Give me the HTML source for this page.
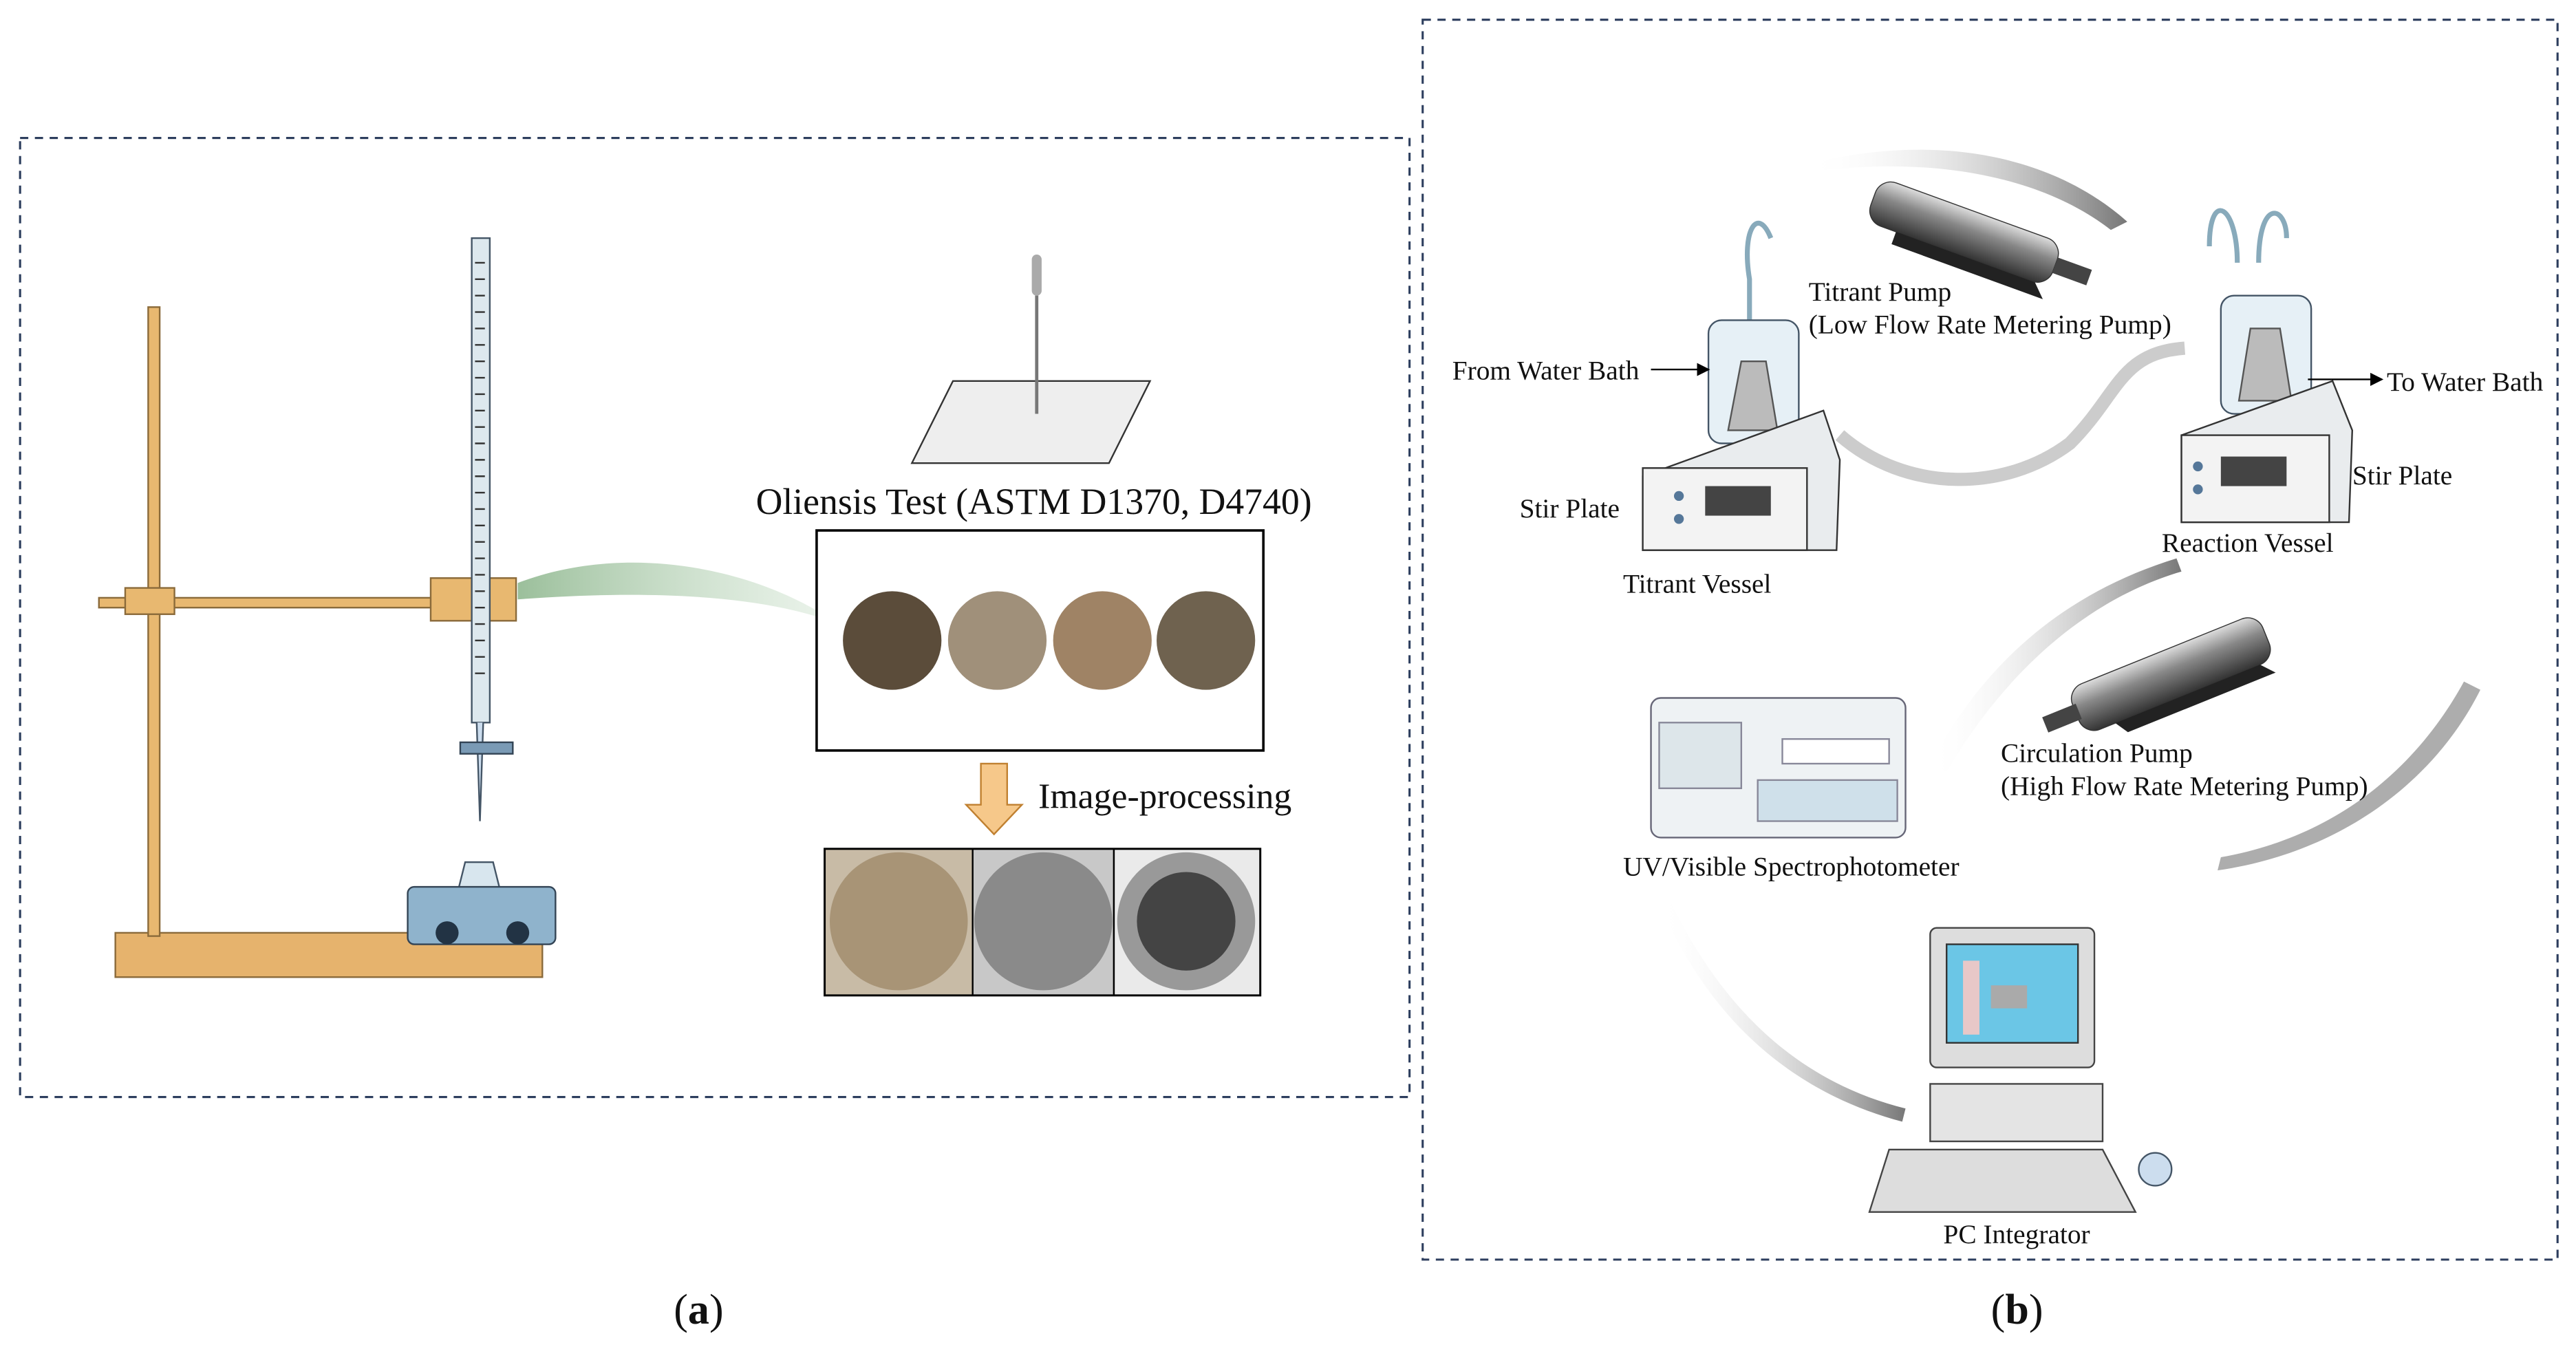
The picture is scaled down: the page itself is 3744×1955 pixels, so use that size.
<!DOCTYPE html>
<html><head><meta charset="utf-8"><style>
html,body{margin:0;padding:0;background:#fff}
svg{display:block}
text{font-family:"Liberation Serif",serif;fill:#111}
</style></head><body>
<svg width="3744" height="1955" viewBox="0 0 1568 819" xmlns="http://www.w3.org/2000/svg">
<defs>
<linearGradient id="ga" x1="0" x2="1"><stop offset="0" stop-color="#fff" stop-opacity="0"/><stop offset="1" stop-color="#777"/></linearGradient>
<linearGradient id="gcyl" x1="0" y1="0" x2="0" y2="1"><stop offset="0" stop-color="#ddd"/><stop offset=".4" stop-color="#888"/><stop offset="1" stop-color="#333"/></linearGradient>
<linearGradient id="ggr" x1="0" x2="1"><stop offset="0" stop-color="#9bbf9b"/><stop offset="1" stop-color="#cfe3cf" stop-opacity=".4"/></linearGradient>
<marker id="ar" markerWidth="8" markerHeight="8" refX="7" refY="4" orient="auto"><path d="M0,0 L8,4 L0,8z" fill="#000"/></marker>
</defs>
<rect x="12" y="84" width="846" height="584" fill="none" stroke="#2d3e5e" stroke-width="1.3" stroke-dasharray="5,4"/>
<rect x="866" y="12" width="691" height="755" fill="none" stroke="#2d3e5e" stroke-width="1.3" stroke-dasharray="5,4"/>
<text x="410" y="806" font-size="26">(<tspan font-weight="bold">a</tspan>)</text>
<text x="1212" y="806" font-size="26">(<tspan font-weight="bold">b</tspan>)</text>
<!-- stand -->
<rect x="70" y="568" width="260" height="27" fill="#e6b36d" stroke="#8a6a3a"/>
<rect x="90" y="187" width="7" height="383" fill="#e8b870" stroke="#8a6a3a"/>
<rect x="60" y="364" width="240" height="6" fill="#e8b870" stroke="#8a6a3a"/>
<rect x="76" y="358" width="30" height="16" fill="#e8b870" stroke="#8a6a3a"/>
<rect x="262" y="352" width="52" height="26" fill="#e8b870" stroke="#8a6a3a"/>
<rect x="287" y="145" width="11" height="295" fill="#dde8ee" stroke="#456"/>
<g stroke="#333" stroke-width="1">
<path d="M289 160h6M289 170h6M289 180h6M289 190h6M289 200h6M289 210h6M289 220h6M289 230h6M289 240h6M289 250h6M289 260h6M289 270h6M289 280h6M289 290h6M289 300h6M289 310h6M289 320h6M289 330h6M289 340h6M289 350h6M289 360h6M289 370h6M289 380h6M289 390h6M289 400h6M289 410h6"/>
</g>
<path d="M290 440 L292 500 L294 440" fill="#cde" stroke="#456"/>
<rect x="280" y="452" width="32" height="7" fill="#7a9ab5" stroke="#345"/>
<path d="M283 525 L300 525 L305 545 L278 545z" fill="#d8e6ee" stroke="#456"/>
<rect x="248" y="540" width="90" height="35" rx="4" fill="#8fb3cc" stroke="#345"/>
<circle cx="272" cy="568" r="7" fill="#234"/><circle cx="315" cy="568" r="7" fill="#234"/>
<path d="M315 355 C380 330,460 345,510 380 C460 360,380 360,315 365z" fill="url(#ggr)"/>
<!-- pipette/paper -->
<path d="M580 232 L700 232 L675 282 L555 282z" fill="#eee" stroke="#333"/>
<rect x="628" y="155" width="6" height="25" rx="3" fill="#aaa"/>
<line x1="631" y1="180" x2="631" y2="252" stroke="#777" stroke-width="2"/>
<text x="460" y="313" font-size="22.5">Oliensis Test (ASTM D1370, D4740)</text>
<rect x="497" y="323" width="272" height="134" fill="#fff" stroke="#000" stroke-width="1.5"/>
<circle cx="543" cy="390" r="30" fill="#5b4c3a"/><circle cx="607" cy="390" r="30" fill="#a0907a"/>
<circle cx="671" cy="390" r="30" fill="#9f8365"/><circle cx="734" cy="390" r="30" fill="#6f624f"/>
<path d="M597 465 L613 465 L613 490 L622 490 L605 508 L588 490 L597 490z" fill="#f6c88a" stroke="#c08030"/>
<text x="632" y="492" font-size="21.7">Image-processing</text>
<rect x="502" y="517" width="265" height="89" fill="#fff" stroke="#000" stroke-width="1.5"/>
<rect x="502" y="517" width="90" height="89" fill="#c8bba6" stroke="#000"/>
<rect x="592" y="517" width="86" height="89" fill="#c8c8c8" stroke="#000"/>
<rect x="678" y="517" width="89" height="89" fill="#eaeaea" stroke="#000"/>
<circle cx="547" cy="561" r="42" fill="#a89476"/><circle cx="635" cy="561" r="42" fill="#8a8a8a"/>
<circle cx="722" cy="561" r="42" fill="#999"/><circle cx="722" cy="561" r="30" fill="#444"/>
<!-- right: arrows -->
<path d="M1100 100 C1180 80,1250 95,1295 135 L1285 140 C1240 105,1170 95,1100 105z" fill="url(#ga)"/>
<path d="M1175 465 C1210 400,1260 360,1325 340 L1328 348 C1270 365,1220 410,1185 470z" fill="url(#ga)"/>
<path d="M1510 420 C1480 480,1420 520,1350 530 L1352 522 C1420 510,1470 470,1500 415z" fill="#999" opacity=".8"/>
<path d="M1015 545 C1050 620,1100 660,1160 675 L1158 683 C1090 665,1040 620,1010 550z" fill="url(#ga)"/>
<path d="M1120 265 C1160 300,1220 300,1260 270 C1290 240,1290 215,1330 212" fill="none" stroke="#ccc" stroke-width="8"/>
<!-- pumps -->
<g transform="translate(1145 108) rotate(20)"><rect x="0" y="0" width="118" height="28" rx="10" fill="url(#gcyl)" stroke="#333" stroke-width=".6"/><rect x="118" y="9" width="22" height="10" fill="#444"/><path d="M20 28 L110 28 L118 36 L20 36z" fill="#222"/></g>
<g transform="translate(1258 420) rotate(-22)"><rect x="0" y="0" width="125" height="30" rx="10" fill="url(#gcyl)" stroke="#333" stroke-width=".6"/><rect x="-20" y="10" width="22" height="10" fill="#444"/><path d="M20 30 L115 30 L122 38 L25 38z" fill="#222"/></g>
<!-- titrant vessel -->
<path d="M1078 145 C1070 125,1060 140,1065 170 L1065 200" fill="none" stroke="#8ab" stroke-width="3"/>
<rect x="1040" y="195" width="55" height="75" rx="8" fill="#e6f0f6" stroke="#456"/>
<path d="M1060 220 L1075 220 L1082 262 L1052 262z" fill="#bbb" stroke="#555"/>
<path d="M1000 290 L1110 250 L1120 280 L1118 335 L1000 335z" fill="#e9ecee" stroke="#333"/>
<rect x="1000" y="285" width="100" height="50" fill="#f3f3f3" stroke="#333"/>
<rect x="1038" y="296" width="40" height="18" fill="#444"/>
<circle cx="1022" cy="302" r="3" fill="#579"/><circle cx="1022" cy="316" r="3" fill="#579"/>
<!-- reaction vessel -->
<path d="M1345 150 C1345 115,1362 125,1362 160 M1375 160 C1375 120,1392 125,1392 145" fill="none" stroke="#8ab" stroke-width="3"/>
<rect x="1352" y="180" width="55" height="72" rx="8" fill="#e6f0f6" stroke="#456"/>
<path d="M1370 200 L1388 200 L1395 244 L1363 244z" fill="#bbb" stroke="#555"/>
<path d="M1328 265 L1420 232 L1432 262 L1430 318 L1328 318z" fill="#e9ecee" stroke="#333"/>
<rect x="1328" y="265" width="90" height="53" fill="#f3f3f3" stroke="#333"/>
<rect x="1352" y="278" width="40" height="18" fill="#444"/>
<circle cx="1338" cy="284" r="3" fill="#579"/><circle cx="1338" cy="298" r="3" fill="#579"/>
<line x1="1005" y1="225" x2="1040" y2="225" stroke="#000" marker-end="url(#ar)"/>
<line x1="1405" y1="231" x2="1450" y2="231" stroke="#000" marker-end="url(#ar)"/>
<!-- spectrophotometer -->
<rect x="1005" y="425" width="155" height="85" rx="6" fill="#eef2f4" stroke="#667"/>
<rect x="1010" y="440" width="50" height="40" fill="#dde6ea" stroke="#889"/>
<rect x="1070" y="475" width="85" height="25" fill="#cfe0ea" stroke="#889"/>
<rect x="1085" y="450" width="65" height="15" fill="#fff" stroke="#889"/>
<!-- PC -->
<rect x="1175" y="565" width="100" height="85" rx="4" fill="#ddd" stroke="#444"/>
<rect x="1185" y="575" width="80" height="60" fill="#6bc6e6" stroke="#333"/>
<rect x="1195" y="585" width="10" height="45" fill="#e8c8c8"/>
<rect x="1212" y="600" width="22" height="14" fill="#aaa"/>
<rect x="1175" y="660" width="105" height="35" fill="#e4e4e4" stroke="#444"/>
<path d="M1150 700 L1280 700 L1300 738 L1138 738z" fill="#ddd" stroke="#444"/>
<ellipse cx="1312" cy="712" rx="10" ry="10" fill="#cde" stroke="#456"/>
<g font-size="16.5">
<text x="1101" y="183">Titrant Pump</text>
<text x="1101" y="203">(Low Flow Rate Metering Pump)</text>
<text x="884" y="231">From Water Bath</text>
<text x="1453" y="238">To Water Bath</text>
<text x="925" y="315">Stir Plate</text>
<text x="1432" y="295">Stir Plate</text>
<text x="988" y="361">Titrant Vessel</text>
<text x="1316" y="336">Reaction Vessel</text>
<text x="1218" y="464">Circulation Pump</text>
<text x="1218" y="484">(High Flow Rate Metering Pump)</text>
<text x="988" y="533">UV/Visible Spectrophotometer</text>
<text x="1183" y="757">PC Integrator</text>
</g>
</svg>
</body></html>
